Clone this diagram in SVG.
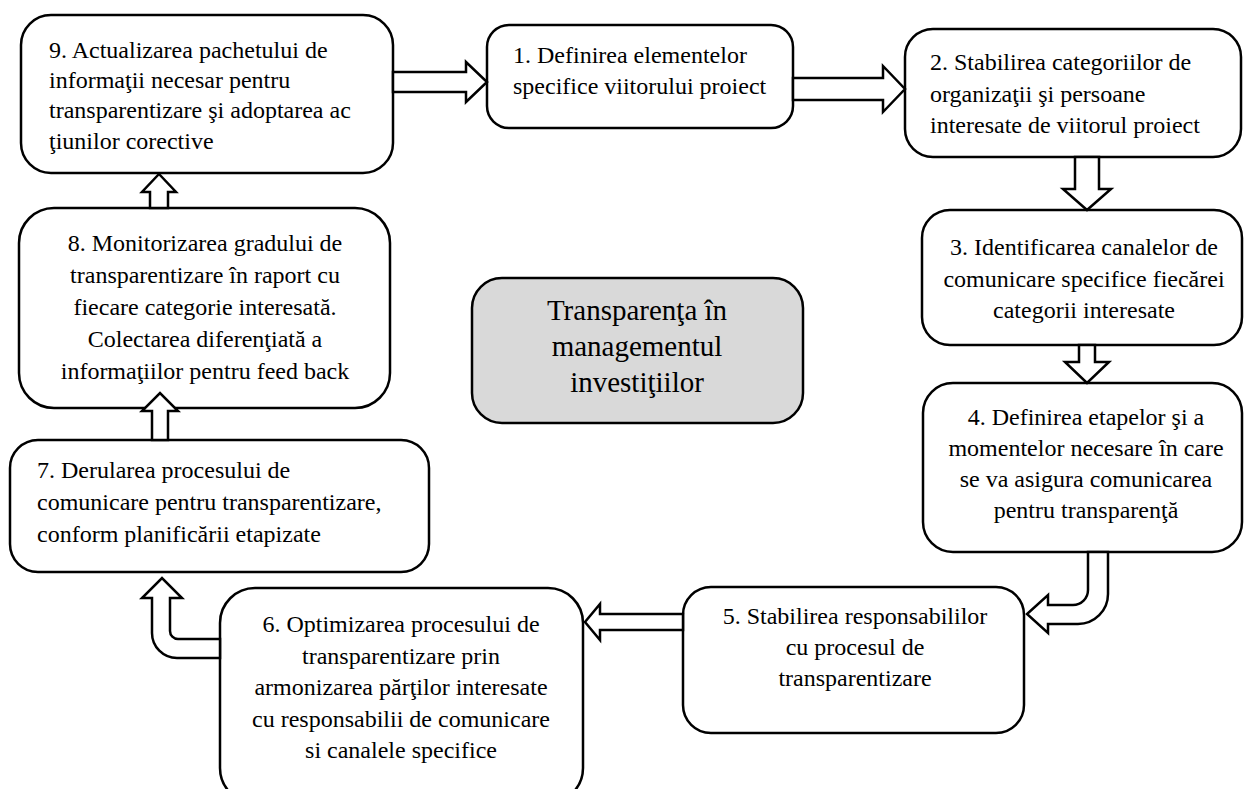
<svg xmlns="http://www.w3.org/2000/svg" width="1255" height="789" viewBox="0 0 1255 789">
<style>
.box{fill:#fff;stroke:#000;stroke-width:2.5}
.center{fill:#d9d9d9;stroke:#000;stroke-width:2.5}
.arr{fill:#fff;stroke:#000;stroke-width:2.5;stroke-linejoin:miter}
text{font-family:"Liberation Serif","Times New Roman",serif;font-size:24px;fill:#000}
.c{text-anchor:middle}
.big{font-size:29px}
</style>
<rect width="1255" height="789" fill="#fff"/>
<g id="node9"><rect class="box" x="21" y="15" width="372" height="158" rx="30"/>
<text x="49" y="58">9. Actualizarea pachetului de</text><text x="49" y="88">informaţii necesar pentru</text><text x="49" y="118">transparentizare şi adoptarea ac</text><text x="49" y="149">ţiunilor corective</text></g>
<g id="node1"><rect class="box" x="487" y="25" width="306" height="103" rx="22"/>
<text x="513" y="63">1. Definirea elementelor</text><text x="513" y="94">specifice viitorului proiect</text></g>
<g id="node2"><rect class="box" x="905" y="29" width="336" height="128" rx="28"/>
<text x="930" y="70">2. Stabilirea categoriilor de</text><text x="930" y="102">organizaţii şi persoane</text><text x="930" y="133">interesate de viitorul proiect</text></g>
<g id="node3"><rect class="box" x="922" y="210" width="320" height="135" rx="28"/>
<text class="c" x="1084" y="255">3. Identificarea canalelor de</text><text class="c" x="1084" y="287">comunicare specifice fiecărei</text><text class="c" x="1084" y="318">categorii interesate</text></g>
<g id="node4"><rect class="box" x="923" y="383" width="319" height="169" rx="30"/>
<text class="c" x="1086" y="425">4. Definirea etapelor şi a</text><text class="c" x="1086" y="456">momentelor necesare în care</text><text class="c" x="1086" y="487">se va asigura comunicarea</text><text class="c" x="1086" y="518">pentru transparenţă</text></g>
<g id="node5"><rect class="box" x="683" y="587" width="341" height="146" rx="28"/>
<text class="c" x="855" y="624">5. Stabilirea responsabililor</text><text class="c" x="855" y="655">cu procesul de</text><text class="c" x="855" y="686">transparentizare</text></g>
<g id="node6"><rect class="box" x="220" y="588" width="363" height="215" rx="35"/>
<text class="c" x="401" y="632">6. Optimizarea procesului de</text><text class="c" x="401" y="664">transparentizare prin</text><text class="c" x="401" y="695">armonizarea părţilor interesate</text><text class="c" x="401" y="727">cu responsabilii de comunicare</text><text class="c" x="401" y="758">si canalele specifice</text></g>
<g id="node7"><rect class="box" x="10" y="440" width="419" height="132" rx="28"/>
<text x="37" y="478">7. Derularea procesului de</text><text x="37" y="510">comunicare pentru transparentizare,</text><text x="37" y="542">conform planificării etapizate</text></g>
<g id="node8"><rect class="box" x="19" y="208" width="371" height="200" rx="35"/>
<text class="c" x="205" y="251">8. Monitorizarea gradului de</text><text class="c" x="205" y="283">transparentizare în raport cu</text><text class="c" x="205" y="315">fiecare categorie interesată.</text><text class="c" x="205" y="347">Colectarea diferenţiată a</text><text class="c" x="205" y="379">informaţiilor pentru feed back</text></g>
<g id="center"><rect class="center" x="472" y="278" width="331" height="145" rx="30"/>
<text class="c big" x="637" y="320">Transparenţa în</text><text class="c big" x="637" y="356">managementul</text><text class="c big" x="637" y="392">investiţiilor</text></g>
<g id="connectors">
<polygon class="arr" points="393,72 466,72 466,62 487,82 466,102 466,92 393,92"/>
<polygon class="arr" points="793,78 883,78 883,66 905,89 883,112 883,100 793,100"/>
<polygon class="arr" points="1075,157 1075,189 1063,189 1087,210 1111,189 1099,189 1099,157"/>
<polygon class="arr" points="1079,345 1079,362 1065,362 1087,383 1109,362 1095,362 1095,345"/>
<path class="arr" d="M1108,552 V594 A30,30 0 0 1 1078,624 H1048 V633 L1027,614 L1048,595 V605 H1073 A15,15 0 0 0 1088,590 V552 Z"/>
<polygon class="arr" points="683,614 600,614 600,604 585,622 600,640 600,630 683,630"/>
<path class="arr" d="M220,639 H178 A8,8 0 0 1 170,631 V598 H182 L162,578 L142,598 H152 V633 A25,25 0 0 0 177,658 H220 Z"/>
<polygon class="arr" points="152,440 152,411 142,411 160,393 178,411 168,411 168,440"/>
<polygon class="arr" points="150,208 150,192 142,192 159,174 176,192 168,192 168,208"/>
</g>
</svg>
